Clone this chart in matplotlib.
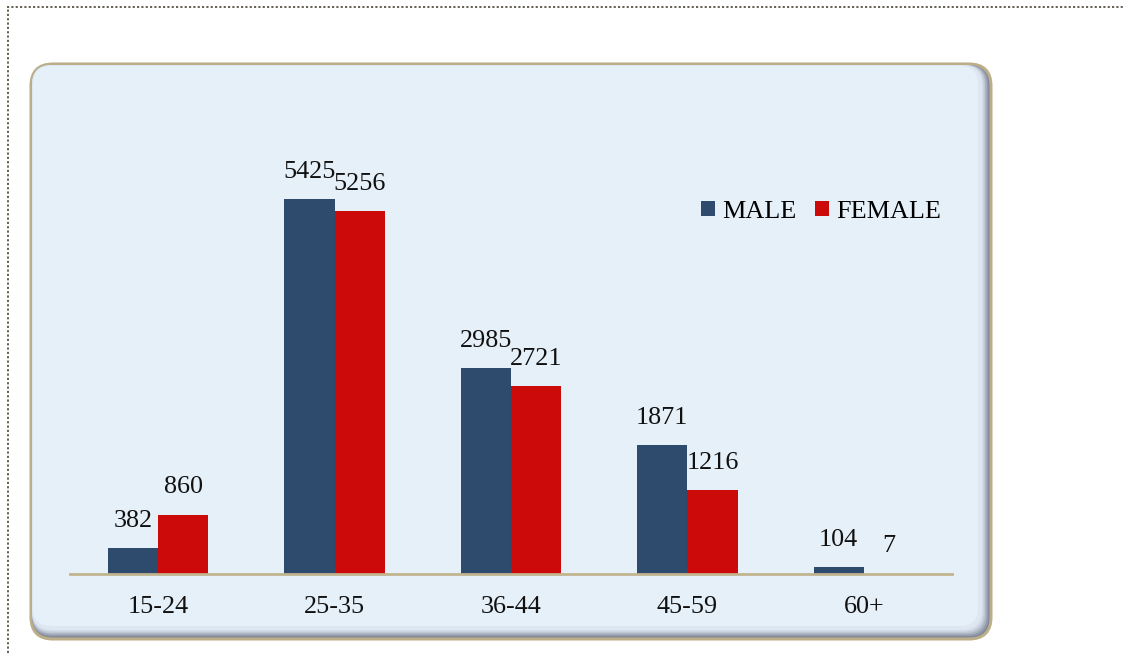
"""
Age group by gender bar chart
"""

import matplotlib.pyplot as plt
import numpy as np
from matplotlib.patches import FancyBboxPatch, Patch
from matplotlib.lines import Line2D

age_groups = ["15-24", "25-35", "36-44", "45-59", "60+"]
male = [382, 5425, 2985, 1871, 104]
female = [860, 5256, 2721, 1216, 7]
series_names = ["MALE", "FEMALE"]

MALE_COLOR = "#2e4a6d"
FEMALE_COLOR = "#cc0a0a"
BAR_WIDTH = 0.285
FONT = "Liberation Serif"
FONT_SIZE = 18.8

plt.rcParams["font.family"] = [FONT, "DejaVu Serif"]

fig = plt.figure(figsize=(11.25, 6.53), dpi=100)
fig.patch.set_facecolor("white")

# dotted page border (top and left)
fig.add_artist(Line2D([7 / 1125, 1.0], [1 - 7 / 653] * 2, transform=fig.transFigure,
                      color="#5a5444", lw=1.3, ls=(0, (1.2, 1.2))))
fig.add_artist(Line2D([8 / 1125] * 2, [0.0, 1 - 7 / 653], transform=fig.transFigure,
                      color="#5a5444", lw=1.3, ls=(0, (1.2, 1.2))))

# rounded chart box with bevel shadow (inches)
x0, x1 = 0.31, 9.91
y0, y1 = 0.14, 5.89
box_outer = FancyBboxPatch((x0, y0), x1 - x0, y1 - y0,
                           boxstyle="round,pad=0,rounding_size=0.22",
                           transform=fig.dpi_scale_trans, facecolor="#7d8596",
                           edgecolor="#bcae88", lw=2.2, zorder=0)
fig.add_artist(box_outer)
shades = ["#939bab", "#aab2c1", "#c0c8d5", "#d2dbe7", "#dde7f2"]
for i, c in enumerate(shades):
    d = 0.016 * (i + 1)
    fig.add_artist(FancyBboxPatch((x0 + 0.01, y0 + d + 0.01), x1 - x0 - d - 0.02,
                                  y1 - y0 - d - 0.02,
                                  boxstyle="round,pad=0,rounding_size=0.2",
                                  transform=fig.dpi_scale_trans, facecolor=c,
                                  edgecolor="none", zorder=0))
fig.add_artist(FancyBboxPatch((x0 + 0.02, y0 + 0.13), x1 - x0 - 0.15, y1 - y0 - 0.15,
                              boxstyle="round,pad=0,rounding_size=0.18",
                              transform=fig.dpi_scale_trans, facecolor="#e6f0f9",
                              edgecolor="none", zorder=0))

ax = fig.add_axes([70 / 1125, 79 / 653, 882 / 1125, 0.6775])
ax.set_facecolor("none")

x = np.arange(len(age_groups))
bars_m = ax.bar(x - BAR_WIDTH / 2, male, BAR_WIDTH, color=MALE_COLOR, zorder=2)
bars_f = ax.bar(x + BAR_WIDTH / 2, female, BAR_WIDTH, color=FEMALE_COLOR, zorder=2)

for bars, vals in [(bars_m, male), (bars_f, female)]:
    for b, v in zip(bars, vals):
        ax.annotate(str(v), (b.get_x() + b.get_width() / 2, v),
                    xytext=(0, 19.5), textcoords="offset points",
                    ha="center", va="center", fontsize=FONT_SIZE, color="#111111")

ax.set_xlim(-0.5, len(age_groups) - 0.5)
ax.set_ylim(0, 6400)
ax.set_xticks(x)
ax.set_xticklabels(age_groups, fontsize=FONT_SIZE, color="#111111")
ax.tick_params(axis="x", length=0, pad=16)
ax.set_yticks([])
for side in ["top", "right", "left"]:
    ax.spines[side].set_visible(False)
ax.spines["bottom"].set_color("#c2b48f")
ax.spines["bottom"].set_linewidth(2)

handles = [Patch(facecolor=MALE_COLOR), Patch(facecolor=FEMALE_COLOR)]
fig.legend(handles, series_names, loc="center left",
           bbox_to_anchor=(701 / 1125, 1 - 212 / 653), ncol=2, frameon=False,
           fontsize=FONT_SIZE, handlelength=0.52, handleheight=0.52,
           handletextpad=0.3, columnspacing=0.7, borderpad=0, borderaxespad=0)

plt.savefig("out.png", dpi=100)
